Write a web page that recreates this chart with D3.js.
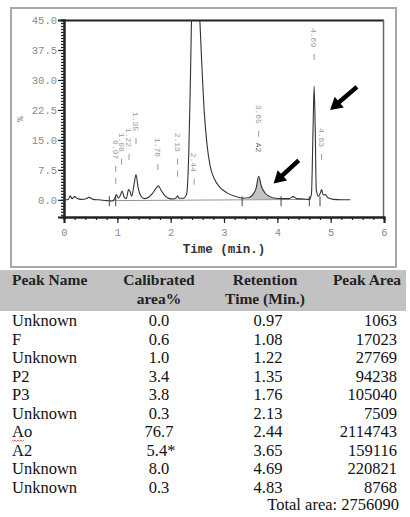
<!doctype html>
<html>
<head>
<meta charset="utf-8">
<script src="https://d3js.org/d3.v7.min.js"></script>
<style>
  body { margin: 0; background: #fff; }
  svg { display: block; }
</style>
</head>
<body>
<svg id="chart" width="410" height="517"></svg>
<script>
// table data
var peakNames = ["Unknown", "F", "Unknown", "P2", "P3", "Unknown", "Ao", "A2", "Unknown", "Unknown"];
var calibratedArea = ["0.0", "0.6", "1.0", "3.4", "3.8", "0.3", "76.7", "5.4*", "8.0", "0.3"];
var retentionTimes = [0.97, 1.08, 1.22, 1.35, 1.76, 2.13, 2.44, 3.65, 4.69, 4.83];
var peakAreas = [1063, 17023, 27769, 94238, 105040, 7509, 2114743, 159116, 220821, 8768];
var totalArea = 2756090;

// chromatogram trace: [time (min), signal %]
var trace = [
  [0.00, 0.0], [0.08, 0.1], [0.12, 1.0], [0.15, 0.3], [0.20, 0.8], [0.25, 0.3], [0.32, 0.1],
  [0.40, 0.2], [0.47, 0.6], [0.55, 0.1], [0.65, 0.0], [0.80, -0.2], [0.90, -0.3], [0.95, 0.3],
  [0.98, 1.3], [1.02, 0.4], [1.06, 1.2], [1.09, 2.2], [1.13, 0.6], [1.17, 0.3], [1.21, 2.6],
  [1.24, 2.0], [1.27, 0.9], [1.31, 3.5], [1.35, 6.3], [1.39, 3.0], [1.44, 1.0], [1.50, 0.3],
  [1.58, 0.6], [1.66, 1.6], [1.72, 2.8], [1.77, 3.5], [1.82, 2.4], [1.90, 0.9], [1.98, 0.3],
  [2.06, 0.2], [2.11, 0.6], [2.13, 1.0], [2.16, 0.4], [2.24, 0.4], [2.30, 1.5], [2.34, 12],
  [2.37, 30], [2.40, 50], [2.47, 62], [2.53, 50], [2.58, 35], [2.63, 22], [2.68, 14],
  [2.74, 8.5], [2.82, 5.2], [2.92, 3.2], [3.05, 1.8], [3.20, 0.9], [3.36, 0.4], [3.46, 0.5],
  [3.54, 1.3], [3.60, 2.8], [3.65, 5.9], [3.70, 3.4], [3.77, 1.7], [3.86, 0.8], [3.96, 0.4],
  [4.10, 0.3], [4.22, 0.3], [4.30, 0.8], [4.36, 0.3], [4.50, 0.2], [4.60, 0.1], [4.64, 1.5],
  [4.67, 18], [4.69, 28.5], [4.71, 18], [4.73, 2.5], [4.77, 0.9], [4.81, 1.8], [4.83, 2.6],
  [4.86, 1.2], [4.90, 1.3], [4.95, 0.5], [5.05, 0.1], [5.20, 0.0], [5.37, 0.0]
];

// where each vertical peak label starts (signal %), and how many dashes under it
var labelTops = [15, 16.8, 18, 22, 15.5, 16.8, 11.8, 23.8, 43, 18];
var labelDashes = [2, 1, 1, 1, 1, 2, 1, 1, 1, 1];
var integrationMarks = [0.85, 0.97, 3.34, 4.07, 4.60, 4.80];
var shadedRange = [3.44, 4.0];

var yTicks = [0, 7.5, 15, 22.5, 30, 37.5, 45];
var xTicks = [0, 1, 2, 3, 4, 5, 6];

// arrows: [tail, tip] in data units
var arrows = [
  [[5.46, 27.9], [4.99, 22.5]],
  [[4.37, 9.5], [3.93, 4.1]]
];

var svg = d3.select("#chart");
var x = d3.scaleLinear().domain([0, 6]).range([64, 384]);
var y = d3.scaleLinear().domain([-4.3, 45]).range([217, 20]);

// outer frame
svg.append("rect").attr("x", 11).attr("y", 8).attr("width", 385).attr("height", 259)
  .attr("fill", "none").attr("stroke", "#a8a8a8").attr("stroke-width", 2);

svg.append("clipPath").attr("id", "plotclip")
  .append("rect").attr("x", 64).attr("y", 20).attr("width", 320).attr("height", 197);

// plot border: top dark, right gray
svg.append("line").attr("x1", 64).attr("x2", 384).attr("y1", 20.5).attr("y2", 20.5)
  .attr("stroke", "#222").attr("stroke-width", 2);
svg.append("line").attr("x1", 383.5).attr("x2", 383.5).attr("y1", 20).attr("y2", 217)
  .attr("stroke", "#666").attr("stroke-width", 1.5);

var mono = "'Liberation Mono', 'DejaVu Sans Mono', monospace";

// y axis
var yMinor = svg.append("g").attr("transform", "translate(64,0)")
  .call(d3.axisLeft(y).tickValues(d3.range(-3.75, 45.01, 0.75)).tickSize(3).tickFormat(""));
var yMajor = svg.append("g").attr("transform", "translate(64,0)")
  .call(d3.axisLeft(y).tickValues(yTicks).tickSize(6).tickPadding(1).tickFormat(d3.format(".1f")));
[yMinor, yMajor].forEach(function(g){
  g.select(".domain").attr("stroke", "#222").attr("stroke-width", 2);
  g.selectAll("line").attr("stroke", "#222").attr("stroke-width", 1.2);
});
yMajor.selectAll("text").attr("font-family", mono).attr("font-size", 10.5).attr("fill", "#8a8a8a");

// x axis
var xMinor = svg.append("g").attr("transform", "translate(0,217)")
  .call(d3.axisBottom(x).tickValues(d3.range(0, 6.01, 0.2)).tickSize(3).tickFormat(""));
var xMajor = svg.append("g").attr("transform", "translate(0,217)")
  .call(d3.axisBottom(x).tickValues(xTicks).tickSize(6).tickPadding(6).tickFormat(d3.format("d")));
[xMinor, xMajor].forEach(function(g){
  g.select(".domain").attr("stroke", "#222").attr("stroke-width", 2);
  g.selectAll("line").attr("stroke", "#222").attr("stroke-width", 1.2);
});
xMajor.selectAll("text").attr("font-family", mono).attr("font-size", 10.5).attr("fill", "#8a8a8a");

svg.append("text").attr("x", 224).attr("y", 253).attr("text-anchor", "middle")
  .attr("font-family", mono).attr("font-weight", "bold").attr("font-size", 12.5)
  .attr("fill", "#333").text("Time (min.)");
svg.append("text").attr("transform", "translate(23,119) rotate(-90)").attr("text-anchor", "middle")
  .attr("font-family", mono).attr("font-size", 9).attr("fill", "#777").text("%");

var plot = svg.append("g").attr("clip-path", "url(#plotclip)");

// shaded A2 peak
var shaded = trace.filter(function(d){ return d[0] >= shadedRange[0] && d[0] <= shadedRange[1]; });
plot.append("path").datum(shaded)
  .attr("d", d3.area().x(function(d){ return x(d[0]); }).y0(y(0.2)).y1(function(d){ return y(d[1]); })
    .curve(d3.curveMonotoneX))
  .attr("fill", "#c4c4c4");

// integration baseline and marks
plot.append("line").attr("x1", x(0.85)).attr("x2", x(4.62)).attr("y1", y(-0.2)).attr("y2", y(0.1))
  .attr("stroke", "#777").attr("stroke-width", 0.8);
plot.selectAll(".imark").data(integrationMarks).enter().append("line")
  .attr("x1", function(d){ return x(d); }).attr("x2", function(d){ return x(d); })
  .attr("y1", y(-1.6)).attr("y2", y(0.9))
  .attr("stroke", "#444").attr("stroke-width", 1);

// trace
plot.append("path").datum(trace)
  .attr("d", d3.line().x(function(d){ return x(d[0]); }).y(function(d){ return y(d[1]); })
    .curve(d3.curveMonotoneX))
  .attr("fill", "none").attr("stroke", "#333").attr("stroke-width", 1.1);

// vertical peak labels
var labelColor = "#a393a3";
retentionTimes.forEach(function(t, i){
  var px = x(t), top = y(labelTops[i]);
  plot.append("text").attr("transform", "translate(" + (px - 3) + "," + top + ") rotate(90)")
    .attr("font-family", mono).attr("font-size", 8).attr("fill", labelColor)
    .text(d3.format(".2f")(t));
  var ly = top + 20;
  for (var k = 0; k < labelDashes[i]; k++) {
    plot.append("line").attr("x1", px).attr("x2", px).attr("y1", ly + 6 + k * 12).attr("y2", ly + 12 + k * 12)
      .attr("stroke", labelColor).attr("stroke-width", 1);
  }
  if (peakNames[i] === "A2") {
    plot.append("text").attr("transform", "translate(" + (px - 3) + "," + (ly + 18) + ") rotate(90)")
      .attr("font-family", mono).attr("font-size", 8).attr("fill", "#666").text("A2");
  }
});

// arrows
arrows.forEach(function(a){
  var x0 = x(a[0][0]), y0 = y(a[0][1]), x1 = x(a[1][0]), y1 = y(a[1][1]);
  var ang = Math.atan2(y1 - y0, x1 - x0), hl = 12, hw = 7;
  var bx = x1 - hl * Math.cos(ang), by = y1 - hl * Math.sin(ang);
  svg.append("line").attr("x1", x0).attr("y1", y0).attr("x2", bx).attr("y2", by)
    .attr("stroke", "#000").attr("stroke-width", 4.5).attr("stroke-linecap", "square");
  svg.append("path").attr("fill", "#000").attr("d",
    "M" + x1 + "," + y1 +
    "L" + (bx + hw * Math.sin(ang)) + "," + (by - hw * Math.cos(ang)) +
    "L" + (bx - hw * Math.sin(ang)) + "," + (by + hw * Math.cos(ang)) + "Z");
});

// table
var serif = "'Liberation Serif', 'Times New Roman', Times, serif";
svg.append("rect").attr("x", 0).attr("y", 270).attr("width", 406).attr("height", 41).attr("fill", "#c2c2c2");

var headers = [
  { lines: ["Peak Name"], x: 12, anchor: "start" },
  { lines: ["Calibrated", "area%"], x: 159, anchor: "middle" },
  { lines: ["Retention", "Time (Min.)"], x: 265, anchor: "middle" },
  { lines: ["Peak Area"], x: 367, anchor: "middle" }
];
headers.forEach(function(h){
  h.lines.forEach(function(l, j){
    svg.append("text").attr("x", h.x).attr("y", 285 + j * 19).attr("text-anchor", h.anchor)
      .attr("font-family", serif).attr("font-weight", "bold").attr("font-size", 15.5)
      .attr("fill", "#222").text(l);
  });
});

var rowY = function(i){ return 326 + i * 18.5; };
var rows = svg.append("g").attr("font-family", serif).attr("font-size", 16.5).attr("fill", "#111");
rows.selectAll(".nm").data(peakNames).enter().append("text")
  .attr("x", 12).attr("y", function(d, i){ return rowY(i); }).text(function(d){ return d; });
rows.selectAll(".ca").data(calibratedArea).enter().append("text")
  .attr("x", function(d){ return d.indexOf("*") > -1 ? 161 : 159; })
  .attr("y", function(d, i){ return rowY(i); }).attr("text-anchor", "middle").text(function(d){ return d; });
rows.selectAll(".rt").data(retentionTimes).enter().append("text")
  .attr("x", 268).attr("y", function(d, i){ return rowY(i); }).attr("text-anchor", "middle")
  .text(function(d){ return d3.format(".2f")(d); });
rows.selectAll(".pa").data(peakAreas).enter().append("text")
  .attr("x", 397).attr("y", function(d, i){ return rowY(i); }).attr("text-anchor", "end")
  .text(function(d){ return d; });
rows.append("text").attr("x", 399).attr("y", rowY(peakNames.length) - 1).attr("text-anchor", "end")
  .text("Total area: " + totalArea);

// spell-check squiggle under "Ao"
var ao = peakNames.indexOf("Ao");
var sq = "M12," + (rowY(ao) + 3);
for (var s = 0; s < 8; s++) sq += " l1.5," + (s % 2 ? -1.5 : 1.5);
svg.append("path").attr("d", sq).attr("fill", "none").attr("stroke", "#e04040").attr("stroke-width", 0.8);
</script>
</body>
</html>
